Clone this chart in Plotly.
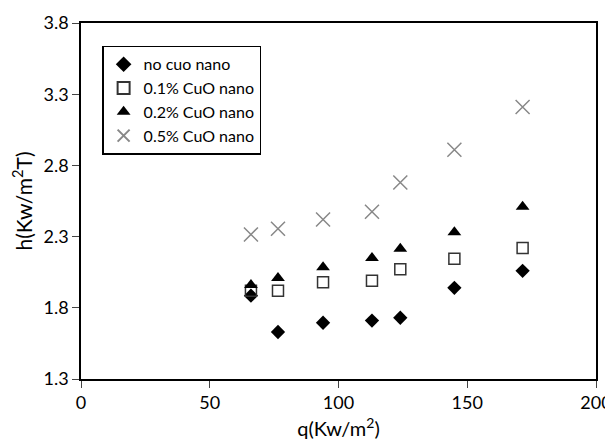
import plotly.graph_objects as go

q_vals = [66, 76.5, 94, 113, 124, 145, 171.5]
h_none = [1.885, 1.63, 1.695, 1.71, 1.73, 1.94, 2.06]
h_01 = [1.92, 1.92, 1.98, 1.99, 2.07, 2.145, 2.22]
h_02 = [1.96, 2.01, 2.085, 2.15, 2.215, 2.33, 2.51]
h_05 = [2.315, 2.355, 2.42, 2.475, 2.68, 2.91, 3.21]

names = ["no cuo nano", "0.1% CuO nano", "0.2% CuO nano", "0.5% CuO nano"]
x_ticks = [0, 50, 100, 150, 200]
y_ticks = [1.3, 1.8, 2.3, 2.8, 3.3, 3.8]

FONT = "Lato"
fig = go.Figure()
fig.add_trace(go.Scatter(x=q_vals, y=h_none, mode="markers", name=names[0],
                         marker=dict(symbol="diamond", size=11, color="black")))
fig.add_trace(go.Scatter(x=q_vals, y=h_01, mode="markers", name=names[1],
                         marker=dict(symbol="square-open", size=11, color="#333",
                                     line=dict(width=1.5, color="#333"))))
fig.add_trace(go.Scatter(x=q_vals, y=h_02, mode="markers", name=names[2],
                         marker=dict(symbol="triangle-up", size=12, color="black")))
fig.add_trace(go.Scatter(x=q_vals, y=h_05, mode="markers", name=names[3],
                         marker=dict(symbol="x-thin-open", size=14, color="#888",
                                     line=dict(width=1.5, color="#888"))))

fig.update_layout(
    width=605, height=438,
    margin=dict(l=73, r=17, t=15, b=67),
    paper_bgcolor="white", plot_bgcolor="white",
    font=dict(family=FONT, size=18, color="black"),
    showlegend=True,
    legend=dict(x=0.041, y=0.936, xanchor="left", yanchor="top",
                bordercolor="black", borderwidth=1.5, bgcolor="white",
                font=dict(family=FONT, size=16), tracegroupgap=0,
                itemsizing="constant", itemwidth=30),
    xaxis=dict(range=[0, 200], tickvals=x_ticks, ticks="outside", ticklen=7,
               showline=True, linecolor="black", linewidth=1.5, mirror=True,
               showgrid=False, zeroline=False, automargin=False,
               title=dict(text="q(Kw/m<sup>2</sup>)", standoff=10,
                          font=dict(size=20))),
    yaxis=dict(range=[1.3, 3.8], tickvals=y_ticks, ticktext=[f"{v:.1f}" for v in y_ticks],
               ticks="outside", ticklen=7,
               showline=True, linecolor="black", linewidth=1.5, mirror=True,
               showgrid=False, zeroline=False, automargin=False,
               title=dict(text="h(Kw/m<sup>2</sup>T)", standoff=10,
                          font=dict(size=21))),
)
fig.write_html("out.html")
